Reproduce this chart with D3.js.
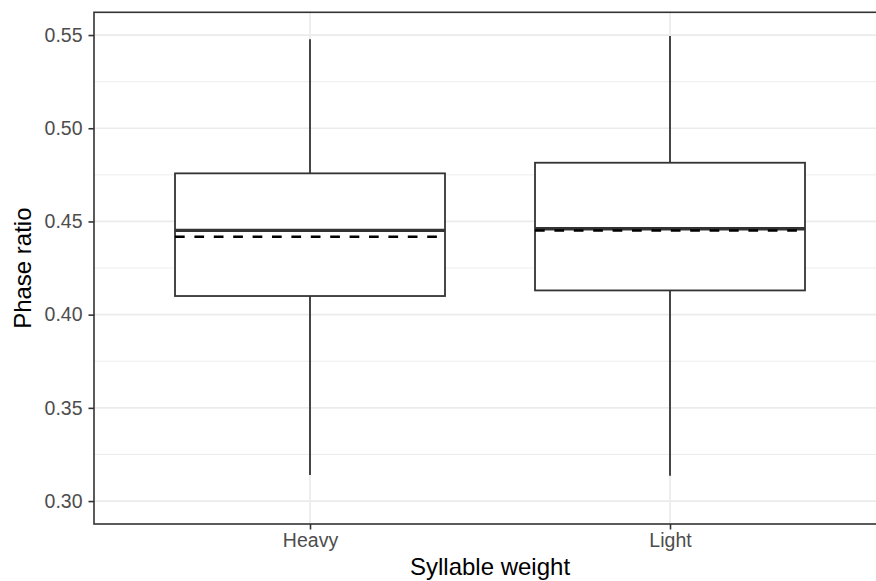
<!DOCTYPE html>
<html>
<head>
<meta charset="utf-8">
<script src="https://cdn.jsdelivr.net/npm/d3@7"></script>
<style>
  html, body { margin: 0; padding: 0; background: #fff; }
  svg { display: block; }
  text { font-family: "Liberation Sans", Arial, Helvetica, sans-serif; }
</style>
</head>
<body>
<div id="chart"></div>
<script>
// Phase ratio by syllable weight: box summaries plus group means
const categories = ["Heavy", "Light"];
const lowerWhisker = [0.314, 0.3136];
const q1 = [0.410, 0.413];
const median = [0.4452, 0.4461];
const q3 = [0.4758, 0.4815];
const upperWhisker = [0.5477, 0.5495];
const means = [0.4418, 0.4452];
const yTicks = [0.30, 0.35, 0.40, 0.45, 0.50, 0.55];
const yMinorTicks = [0.325, 0.375, 0.425, 0.475, 0.525];
const yTickLabels = ["0.30", "0.35", "0.40", "0.45", "0.50", "0.55"];

const W = 876, H = 581;
const panel = { left: 94, right: 886, top: 12.3, bottom: 524 };

const svg = d3.select("#chart").append("svg")
  .attr("width", W).attr("height", H);

// discrete x: category positions 1..n with 0.6 expansion on each side
const x = d3.scaleLinear()
  .domain([0.4, categories.length + 0.6])
  .range([panel.left, panel.right]);
const y = d3.scaleLinear()
  .domain([0.2877, 0.5622])
  .range([panel.bottom, panel.top]);

const boxHalf = 0.375;
const data = categories.map((c, i) => ({
  cat: c, pos: i + 1,
  lo: lowerWhisker[i], q1: q1[i], med: median[i], q3: q3[i], hi: upperWhisker[i], mean: means[i]
}));

// panel background
svg.append("rect")
  .attr("x", panel.left).attr("y", panel.top)
  .attr("width", panel.right - panel.left).attr("height", panel.bottom - panel.top)
  .attr("fill", "#fff");

const grid = svg.append("g");
grid.selectAll(".minor").data(yMinorTicks).join("line")
  .attr("x1", panel.left).attr("x2", panel.right)
  .attr("y1", d => y(d)).attr("y2", d => y(d))
  .attr("stroke", "#ebebeb").attr("stroke-width", 0.9);
grid.selectAll(".major").data(yTicks).join("line")
  .attr("x1", panel.left).attr("x2", panel.right)
  .attr("y1", d => y(d)).attr("y2", d => y(d))
  .attr("stroke", "#ebebeb").attr("stroke-width", 1.7);
grid.selectAll(".vmajor").data(data).join("line")
  .attr("x1", d => x(d.pos)).attr("x2", d => x(d.pos))
  .attr("y1", panel.top).attr("y2", panel.bottom)
  .attr("stroke", "#ebebeb").attr("stroke-width", 1.7);

const boxes = svg.append("g").selectAll("g").data(data).join("g");

// whiskers
boxes.append("line")
  .attr("x1", d => x(d.pos)).attr("x2", d => x(d.pos))
  .attr("y1", d => y(d.q3)).attr("y2", d => y(d.hi))
  .attr("stroke", "#333").attr("stroke-width", 1.8);
boxes.append("line")
  .attr("x1", d => x(d.pos)).attr("x2", d => x(d.pos))
  .attr("y1", d => y(d.q1)).attr("y2", d => y(d.lo))
  .attr("stroke", "#333").attr("stroke-width", 1.8);

// boxes
boxes.append("rect")
  .attr("x", d => x(d.pos - boxHalf))
  .attr("y", d => y(d.q3))
  .attr("width", d => x(d.pos + boxHalf) - x(d.pos - boxHalf))
  .attr("height", d => y(d.q1) - y(d.q3))
  .attr("fill", "#fff").attr("stroke", "#333").attr("stroke-width", 1.8);

// medians
boxes.append("line")
  .attr("x1", d => x(d.pos - boxHalf)).attr("x2", d => x(d.pos + boxHalf))
  .attr("y1", d => y(d.med)).attr("y2", d => y(d.med))
  .attr("stroke", "#333").attr("stroke-width", 3.4);

// means (dashed)
boxes.append("line")
  .attr("x1", d => x(d.pos - boxHalf)).attr("x2", d => x(d.pos + boxHalf))
  .attr("y1", d => y(d.mean)).attr("y2", d => y(d.mean))
  .attr("stroke", "#000").attr("stroke-width", 2.5)
  .attr("stroke-dasharray", "9.7,9.7");

// panel border
svg.append("rect")
  .attr("x", panel.left).attr("y", panel.top)
  .attr("width", panel.right - panel.left).attr("height", panel.bottom - panel.top)
  .attr("fill", "none").attr("stroke", "#333").attr("stroke-width", 1.6);

// y axis
const yAxis = d3.axisLeft(y).tickValues(yTicks)
  .tickFormat((d, i) => yTickLabels[i]).tickSize(5.5).tickPadding(6);
const gy = svg.append("g").attr("transform", `translate(${panel.left},0)`).call(yAxis);
gy.select(".domain").remove();
gy.selectAll(".tick line").attr("stroke", "#333").attr("stroke-width", 1.6);
gy.selectAll(".tick text").attr("fill", "#4d4d4d").attr("font-size", 19.5)
  .attr("font-family", "'Liberation Sans', Arial, sans-serif");

// x axis
const xAxis = d3.axisBottom(x).tickValues(data.map(d => d.pos))
  .tickFormat((d, i) => categories[i]).tickSize(5.5).tickPadding(4);
const gx = svg.append("g").attr("transform", `translate(0,${panel.bottom})`).call(xAxis);
gx.select(".domain").remove();
gx.selectAll(".tick line").attr("stroke", "#333").attr("stroke-width", 1.6);
gx.selectAll(".tick text").attr("fill", "#4d4d4d").attr("font-size", 19.5)
  .attr("font-family", "'Liberation Sans', Arial, sans-serif");

// axis titles
svg.append("text")
  .attr("x", (panel.left + panel.right) / 2).attr("y", 575)
  .attr("text-anchor", "middle").attr("font-size", 24).attr("fill", "#000")
  .text("Syllable weight");
svg.append("text")
  .attr("transform", `translate(31,${(panel.top + panel.bottom) / 2}) rotate(-90)`)
  .attr("text-anchor", "middle").attr("font-size", 24).attr("fill", "#000")
  .text("Phase ratio");
</script>
</body>
</html>
